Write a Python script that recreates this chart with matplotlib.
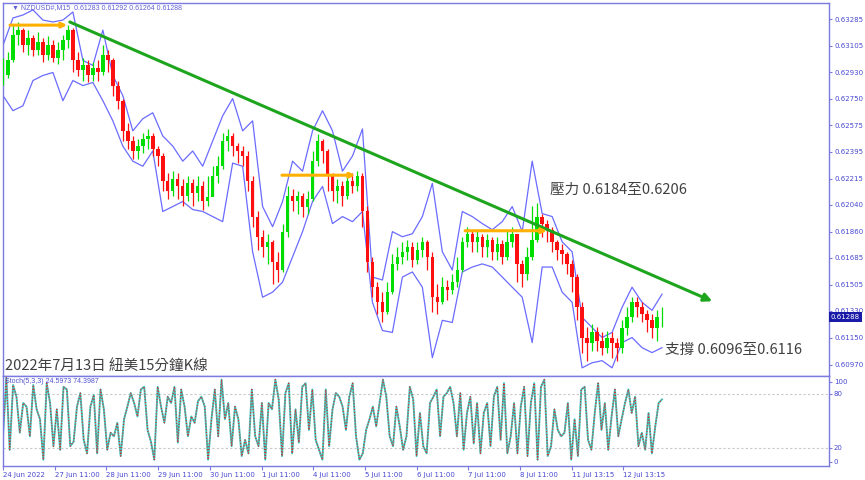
import numpy as np
import matplotlib
matplotlib.use('Agg')
import matplotlib.pyplot as plt
import matplotlib.transforms as mtransforms

# ---------------- data ----------------
close = [0.62907, 0.63008, 0.63177, 0.63211, 0.63109, 0.63157, 0.63076, 0.63130, 0.63042, 0.63109,
         0.63022, 0.63076, 0.63143, 0.63211, 0.63008, 0.62941, 0.62974, 0.62907, 0.62954, 0.62927,
         0.63042, 0.63008, 0.62839, 0.62738, 0.62536, 0.62468, 0.62401, 0.62434, 0.62482, 0.62502,
         0.62414, 0.62367, 0.62198, 0.62131, 0.62212, 0.62164, 0.62097, 0.62185, 0.62117, 0.62164,
         0.62063, 0.62090, 0.62232, 0.62299, 0.62468, 0.62502, 0.62434, 0.62401, 0.62367, 0.62198,
         0.61962, 0.61827, 0.61759, 0.61793, 0.61658, 0.61604, 0.61861, 0.62097, 0.62063, 0.62097,
         0.62029, 0.62077, 0.62333, 0.62468, 0.62401, 0.62232, 0.62131, 0.62164, 0.62097, 0.62198,
         0.62164, 0.62232, 0.61996, 0.61658, 0.61489, 0.61388, 0.61321, 0.61456, 0.61645, 0.61692,
         0.61726, 0.61759, 0.61672, 0.61739, 0.61793, 0.61692, 0.61422, 0.61388, 0.61489, 0.61469,
         0.61523, 0.61604, 0.61793, 0.61847, 0.61793, 0.61827, 0.61759, 0.61807, 0.61726, 0.61780,
         0.61692, 0.61793, 0.61847, 0.61645, 0.61577, 0.61692, 0.61807, 0.61962, 0.61915, 0.61874,
         0.61793, 0.61739, 0.61712, 0.61645, 0.61557, 0.61354, 0.61152, 0.61118, 0.61186, 0.61132,
         0.61084, 0.61152, 0.61118, 0.61084, 0.61219, 0.61287, 0.61388, 0.61354, 0.61307, 0.61267,
         0.61219, 0.61287, 0.61288]

high = [0.63022, 0.63062, 0.63245, 0.63265, 0.63224, 0.63211, 0.63177, 0.63197, 0.63157, 0.63170,
        0.63143, 0.63130, 0.63177, 0.63245, 0.63224, 0.63062, 0.63022, 0.63008, 0.62995, 0.63008,
        0.63110, 0.63076, 0.63022, 0.62873, 0.62752, 0.62590, 0.62502, 0.62482, 0.62522, 0.62549,
        0.62522, 0.62435, 0.62387, 0.62252, 0.62266, 0.62252, 0.62212, 0.62232, 0.62212, 0.62232,
        0.62198, 0.62232, 0.62300, 0.62367, 0.62522, 0.62549, 0.62522, 0.62455, 0.62435, 0.62401,
        0.62232, 0.61996, 0.61874, 0.61847, 0.61807, 0.61726, 0.61915, 0.62165, 0.62144, 0.62131,
        0.62117, 0.62131, 0.62401, 0.62516, 0.62482, 0.62414, 0.62252, 0.62212, 0.62198, 0.62252,
        0.62252, 0.62266, 0.62252, 0.62030, 0.61692, 0.61523, 0.61456, 0.61523, 0.61712, 0.61760,
        0.61793, 0.61807, 0.61793, 0.61793, 0.61827, 0.61807, 0.61726, 0.61510, 0.61557, 0.61537,
        0.61577, 0.61692, 0.61827, 0.61895, 0.61874, 0.61874, 0.61847, 0.61847, 0.61827, 0.61827,
        0.61807, 0.61874, 0.61895, 0.61847, 0.61672, 0.61760, 0.62030, 0.62050, 0.61982, 0.61942,
        0.61895, 0.61807, 0.61780, 0.61726, 0.61672, 0.61577, 0.61388, 0.61220, 0.61240, 0.61220,
        0.61186, 0.61199, 0.61186, 0.61152, 0.61267, 0.61355, 0.61422, 0.61422, 0.61388, 0.61334,
        0.61307, 0.61334, 0.61355]

low = [0.62840, 0.62887, 0.62995, 0.63110, 0.63062, 0.63042, 0.63035, 0.63042, 0.62995, 0.63008,
       0.62995, 0.62981, 0.63008, 0.63089, 0.62927, 0.62900, 0.62873, 0.62860, 0.62873, 0.62873,
       0.62907, 0.62927, 0.62772, 0.62684, 0.62468, 0.62414, 0.62347, 0.62347, 0.62387, 0.62414,
       0.62367, 0.62300, 0.62131, 0.62077, 0.62097, 0.62077, 0.62030, 0.62063, 0.62030, 0.62063,
       0.62009, 0.62030, 0.62097, 0.62185, 0.62279, 0.62401, 0.62367, 0.62320, 0.62300, 0.62131,
       0.61895, 0.61739, 0.61692, 0.61645, 0.61510, 0.61523, 0.61591, 0.61827, 0.61996, 0.61982,
       0.61962, 0.61982, 0.62063, 0.62300, 0.62320, 0.62131, 0.62063, 0.62050, 0.62030, 0.62077,
       0.62117, 0.62131, 0.61895, 0.61591, 0.61422, 0.61307, 0.61253, 0.61307, 0.61442, 0.61604,
       0.61645, 0.61672, 0.61625, 0.61645, 0.61692, 0.61604, 0.61321, 0.61307, 0.61375, 0.61402,
       0.61442, 0.61490, 0.61591, 0.61760, 0.61726, 0.61726, 0.61692, 0.61692, 0.61672, 0.61672,
       0.61645, 0.61672, 0.61760, 0.61523, 0.61490, 0.61537, 0.61672, 0.61793, 0.61827, 0.61793,
       0.61726, 0.61672, 0.61645, 0.61577, 0.61456, 0.61267, 0.61051, 0.60997, 0.61064, 0.61064,
       0.61037, 0.61051, 0.61017, 0.60997, 0.61051, 0.61172, 0.61253, 0.61287, 0.61253, 0.61186,
       0.61152, 0.61132, 0.61220]

upper_band = [0.63109, 0.63292, 0.63312, 0.63346, 0.63278, 0.63265, 0.63278, 0.63332, 0.63008, 0.62974,
              0.63211, 0.62907, 0.62772, 0.62536, 0.62617, 0.62657, 0.62502, 0.62434, 0.62333, 0.62401,
              0.62299, 0.62468, 0.62637, 0.62752, 0.62536, 0.62603, 0.62029, 0.61894, 0.62063, 0.62333,
              0.62266, 0.62536, 0.62671, 0.62536, 0.62266, 0.62367, 0.62549, 0.61557, 0.61537, 0.61861,
              0.61827, 0.61847, 0.61962, 0.62185, 0.61726, 0.61604, 0.61996, 0.61962, 0.61915, 0.61874,
              0.61928, 0.62029, 0.61861, 0.62333, 0.61982, 0.61962, 0.61793, 0.61726, 0.61287, 0.61219,
              0.61152, 0.61186, 0.61354, 0.61489, 0.61388, 0.61334, 0.61442]

lower_band = [0.62772, 0.62671, 0.62704, 0.62873, 0.62907, 0.62927, 0.62738, 0.62873, 0.62839, 0.62860,
              0.62738, 0.62603, 0.62434, 0.62333, 0.62299, 0.62401, 0.61996, 0.62029, 0.62063, 0.62009,
              0.61996, 0.61962, 0.61928, 0.62320, 0.62299, 0.61726, 0.61422, 0.61456, 0.61523, 0.61692,
              0.61861, 0.62063, 0.62164, 0.61915, 0.61962, 0.61928, 0.61996, 0.61388, 0.61199, 0.61186,
              0.61557, 0.61591, 0.61489, 0.61017, 0.61267, 0.61253, 0.61591, 0.61624, 0.61645, 0.61624,
              0.61557, 0.61489, 0.61422, 0.61118, 0.61624, 0.61624, 0.61456, 0.61388, 0.60949, 0.60983,
              0.60997, 0.60949, 0.61118, 0.61152, 0.61084, 0.61051, 0.61084]

stoch_k = [33, 98, 18, 90, 77, 37, 70, 66, 33, 90, 63, 52, 7, 92, 70, 22, 63, 18,
           88, 85, 22, 27,
           66, 81, 29, 14, 66, 79, 14, 85, 63, 18, 37, 33, 48, 11, 52, 66, 81, 70, 55,
           85, 88,
           40, 27, 7, 88, 66, 48, 77, 70, 88, 26, 85, 66, 33, 55, 48, 72, 77, 66, 7, 52,
           85, 33, 96, 52, 70, 22, 66, 52, 11, 29, 14, 85, 33, 22, 70, 7, 70, 63, 96, 74,
           11, 81, 92, 14, 63, 26, 88, 92, 40, 85, 29, 18, 7, 85, 22, 63, 81, 77, 66, 40,
           77, 92, 33, 7, 14, 40, 52, 66, 44, 70, 96, 77, 33, 22, 66, 44, 18, 33, 88, 74,
           11, 59, 22, 14, 70, 77, 85, 33, 77,
           81, 88, 70, 33, 81, 18, 59, 77, 25, 70, 14, 59, 70, 22, 77, 88, 29, 92, 14, 33,
           70, 14, 66, 88, 11, 70, 92, 7, 88, 96, 11, 22, 63, 40, 33, 37, 70, 7, 52, 11,
           85, 88, 29, 18, 59, 92, 40, 70, 18, 55, 85, 33, 52, 70, 85, 59, 77, 22, 37, 18,
           59, 14, 44, 70, 74]

price_ticks = [0.63285, 0.63105, 0.62930, 0.62750, 0.62575, 0.62395, 0.62215,
               0.62040, 0.61860, 0.61685, 0.61505, 0.61330, 0.61150, 0.60970]
date_labels = ['24 Jun 2022', '27 Jun 11:00', '28 Jun 11:00', '29 Jun 11:00', '30 Jun 11:00',
               '1 Jul 11:00', '4 Jul 11:00', '5 Jul 11:00', '6 Jul 11:00', '7 Jul 11:00',
               '8 Jul 11:00', '11 Jul 13:15', '12 Jul 13:15']
last_price = 0.61288

# trend line / levels: (bar index, price)
trend_line = [(124, 0.63265), (1317, 0.61395)]
level_lines = [[(13, 0.63244), (119, 0.63244)],
               [(518, 0.62239), (654, 0.62239)],
               [(858, 0.61867), (1010, 0.61867)]]

# ---------------- layout ----------------
W, H = 865, 480
fig = plt.figure(figsize=(8.65, 4.8), dpi=100)
fig.patch.set_facecolor('white')

def fx(px):
    return px / W

def fy(py):
    return 1 - py / H

BAR_PX = 51.7 / 96.0
XMAX = (829 - 3) / BAR_PX
END_BAR = (662 - 3) / BAR_PX
AXC = '#7a7ae0'
TXC = '#4848d0'

ax = fig.add_axes([fx(3), fy(375.5), fx(829) - fx(3), fy(2.5) - fy(375.5)])
ax2 = fig.add_axes([fx(3), fy(466), fx(829) - fx(3), fy(376) - fy(466)])

y_top = 0.63285 + 16.5 / 14933
y_bot = 0.63285 - 356.5 / 14933

# ---------------- main chart ----------------
xc = np.linspace(0, END_BAR, len(close))
opens = [close[0]] + close[:-1]
bw = (xc[1] - xc[0]) * 0.7
for i in range(len(close)):
    o, c = opens[i], close[i]
    col = '#00dd00' if c >= o else '#ff1010'
    ax.vlines(xc[i], low[i], high[i], color=col, lw=0.9, zorder=3)
    h = c - o
    if abs(h) < 0.00003:
        h = 0.00003
    ax.bar(xc[i], h, bottom=o, width=bw, color=col, edgecolor='none', zorder=3)

xb = np.linspace(0, END_BAR, len(upper_band))
ax.plot(xb, upper_band, color='#6b6bff', lw=0.9, zorder=2)
ax.plot(xb, lower_band, color='#6b6bff', lw=0.9, zorder=2)

(tx0, ty0), (tx1, ty1) = trend_line
ax.annotate('', xy=(tx1, ty1), xytext=(tx0, ty0),
            arrowprops=dict(arrowstyle='-|>', color='#1ea51e', lw=2.2,
                            mutation_scale=12, shrinkA=0, shrinkB=0), zorder=5)
for (a, b) in level_lines:
    ax.annotate('', xy=b, xytext=a,
                arrowprops=dict(arrowstyle='-|>', color='#ffb000', lw=2.2,
                                mutation_scale=7, shrinkA=0, shrinkB=0), zorder=5)

ax.set_xlim(0, XMAX)
ax.set_ylim(y_bot, y_top)
ax.set_xticks([])
ax.yaxis.tick_right()
ax.set_yticks(price_ticks)
ax.set_yticklabels(['%.5f' % v for v in price_ticks])
ax.tick_params(axis='y', length=2.5, width=0.8, color=AXC, labelsize=5,
               labelcolor=TXC, pad=1.5)
for s in ax.spines.values():
    s.set_color(AXC)
    s.set_linewidth(1.0)

trans = mtransforms.blended_transform_factory(ax.transAxes, ax.transData)
ax.text(1.002, last_price, '%.5f' % last_price, transform=trans, va='center', ha='left',
        fontsize=5, color='white', zorder=10, clip_on=False,
        bbox=dict(boxstyle='square,pad=0.25', fc='#1a1aa8', ec='none'))

# ---------------- stochastic ----------------
xs = np.linspace(0, END_BAR, len(stoch_k))
ax2.axhline(80, color='#c8c8c8', lw=0.8, ls=(0, (2, 2)))
ax2.axhline(20, color='#c8c8c8', lw=0.8, ls=(0, (2, 2)))
ax2.plot(xs, stoch_k, color='#40c8c0', lw=1.4)
ax2.plot(xs, stoch_k, color='#e02020', lw=0.8, ls=(0, (1, 1.6)))
ax2.set_xlim(0, XMAX)
ax2.set_ylim(0, 100)
ax2.yaxis.tick_right()
ax2.set_yticks([4.8, 20, 80, 93.7])
ax2.set_yticklabels(['0', '20', '80', '100'])
ax2.tick_params(axis='y', length=2, width=0.8, color=AXC, labelsize=5,
                labelcolor=TXC, pad=1.5)
ax2.set_xticks([k * 96 for k in range(len(date_labels))])
ax2.set_xticklabels(date_labels)
ax2.tick_params(axis='x', length=3, width=0.8, color=AXC, labelsize=5,
                labelcolor=TXC, pad=1.5)
for lbl in ax2.get_xticklabels():
    lbl.set_ha('left')
for s in ax2.spines.values():
    s.set_color(AXC)
    s.set_linewidth(1.0)

# ---------------- texts ----------------
cjk = ['Noto Sans CJK TC', 'DejaVu Sans']
fig.text(fx(12), fy(7.5), '\u25bc NZDUSD#,M15  0.61283 0.61292 0.61264 0.61288',
         fontsize=5, color='#6060d8', va='center', ha='left', family=['Liberation Sans', 'DejaVu Sans'])
fig.text(fx(5), fy(381.5), 'Stoch(5,3,3) 24.5973 74.3987',
         fontsize=5, color='#5050d0', va='center', ha='left', family=['Liberation Sans', 'DejaVu Sans'])
fig.text(fx(550), fy(190), '壓力 0.6184至0.6206', fontsize=10.5, color='#404040',
         va='center', ha='left', family=cjk)
fig.text(fx(665), fy(350), '支撐 0.6096至0.6116', fontsize=10.5, color='#404040',
         va='center', ha='left', family=cjk)
fig.text(fx(5), fy(366), '2022年7月13日 紐美15分鐘K線', fontsize=10.5, color='#404040',
         va='center', ha='left', family=cjk)

fig.savefig('out.png', dpi=100, facecolor='white')
